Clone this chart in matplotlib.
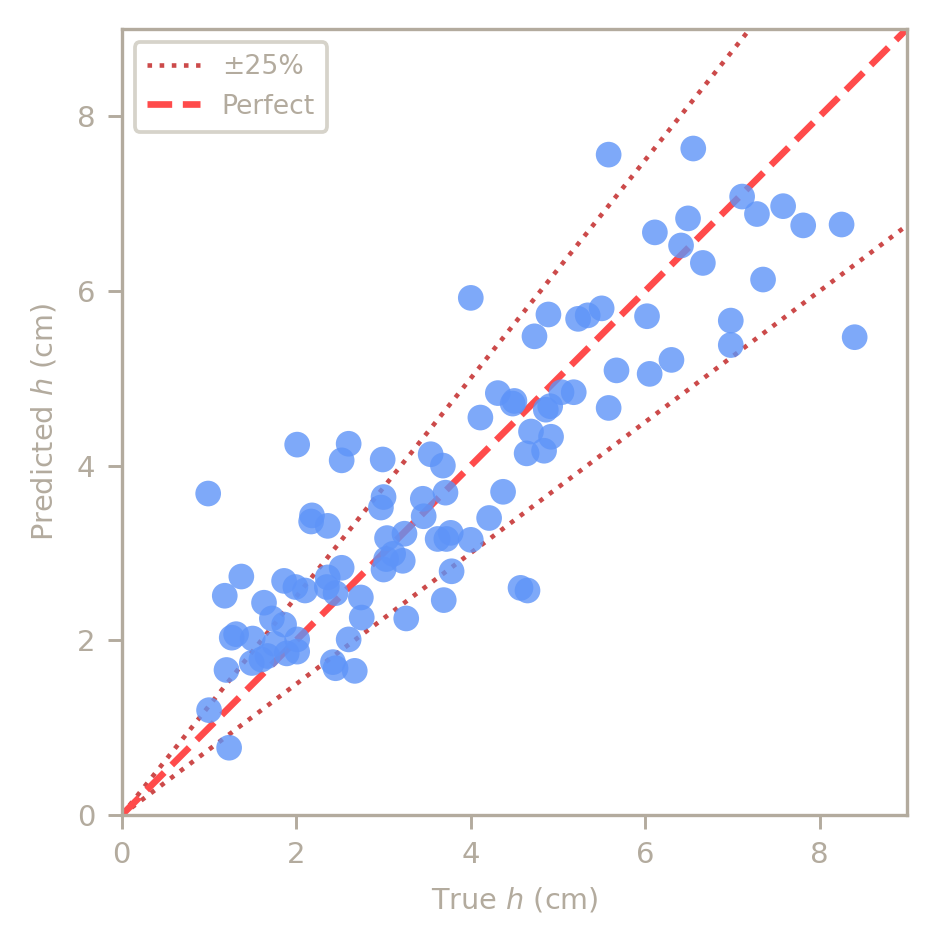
import numpy as np
import matplotlib
matplotlib.use("Agg")
import matplotlib.pyplot as plt

# true vs predicted h (cm)
true_h = [0.99, 1.00, 1.23, 1.18, 1.37, 1.20, 1.26, 1.31, 1.50, 1.49,
          1.63, 1.60, 1.67, 1.72, 1.75, 1.86, 1.86, 1.89, 1.99, 2.01,
          2.01, 2.01, 2.10, 2.17, 2.18, 2.36, 2.35, 2.36, 2.42, 2.45,
          2.45, 2.52, 2.52, 2.60, 2.60, 2.67, 2.74, 2.75, 2.99, 2.97,
          3.00, 3.00, 3.04, 3.03, 3.11, 3.22, 3.24, 3.26, 3.46, 3.45,
          3.54, 3.62, 3.68, 3.69, 3.72, 3.71, 3.77, 3.78, 4.00, 4.00,
          4.11, 4.21, 4.31, 4.37, 4.48, 4.50, 4.57, 4.65, 4.64, 4.69,
          4.73, 4.84, 4.86, 4.89, 4.91, 4.92, 5.04, 5.18, 5.23, 5.34,
          5.50, 5.58, 5.58, 5.67, 6.02, 6.05, 6.11, 6.30, 6.41, 6.49,
          6.55, 6.66, 6.98, 6.98, 7.11, 7.28, 7.35, 7.58, 7.81, 8.25,
          8.40]
pred_h = [3.68, 1.20, 0.77, 2.51, 2.73, 1.66, 2.03, 2.07, 2.02, 1.74,
          2.43, 1.78, 1.82, 2.25, 1.96, 2.68, 2.18, 1.85, 2.61, 2.01,
          1.87, 4.24, 2.57, 3.36, 3.43, 3.31, 2.61, 2.72, 1.75, 1.68,
          2.54, 2.83, 4.06, 4.25, 2.01, 1.65, 2.49, 2.26, 4.07, 3.52,
          3.64, 2.81, 3.17, 2.93, 2.99, 2.91, 3.22, 2.25, 3.42, 3.62,
          4.13, 3.16, 4.00, 2.46, 3.16, 3.69, 3.23, 2.79, 5.92, 3.15,
          4.55, 3.40, 4.83, 3.70, 4.71, 4.74, 2.60, 2.57, 4.14, 4.39,
          5.48, 4.17, 4.64, 5.73, 4.68, 4.33, 4.84, 4.84, 5.68, 5.72,
          5.80, 7.56, 4.66, 5.09, 5.71, 5.05, 6.67, 5.21, 6.52, 6.83,
          7.63, 6.32, 5.66, 5.38, 7.08, 6.88, 6.13, 6.97, 6.75, 6.76,
          5.47]

band = 0.25
lim = 9
ticks = [0, 2, 4, 6, 8]

grey = "#b3ab9e"

plt.rcParams['font.family'] = ['DejaVu Sans']
plt.rcParams['mathtext.fontset'] = 'dejavusans'

fig = plt.figure(figsize=(937 / 300, 946 / 300), dpi=300)
ax = fig.add_axes([0.130, 0.1385, 0.838, 0.831])

line = np.array([0, lim])
ax.plot(line, line * (1 + band), ls=':', color='#cc4a4a', lw=1.1,
        label='±25%', zorder=1)
ax.plot(line, line * (1 - band), ls=':', color='#cc4a4a', lw=1.1, zorder=1)
ax.plot(line, line, ls='--', color='#ff4b4b', lw=1.6, label='Perfect',
        zorder=1)

ax.scatter(true_h, pred_h, s=38, color='#5e94f8', alpha=0.8,
           edgecolors='none', zorder=2)

ax.set_xlim(0, lim)
ax.set_ylim(0, lim)
ax.set_xticks(ticks)
ax.set_yticks(ticks)

ax.set_xlabel('True $h$ (cm)', color=grey, fontsize=6.9, labelpad=4)
ax.set_ylabel('Predicted $h$ (cm)', color=grey, fontsize=6.9, labelpad=4.5)
ax.tick_params(colors=grey, labelcolor=grey, labelsize=7, width=0.7,
               length=3.3, pad=3)
for sp in ax.spines.values():
    sp.set_color(grey)
    sp.set_linewidth(0.8)

leg = ax.legend(loc='upper left', fontsize=6.4, frameon=True,
                edgecolor='#d6d3ca', framealpha=1, handlelength=2.0,
                borderpad=0.45, labelspacing=0.5)
for t in leg.get_texts():
    t.set_color(grey)
leg.get_frame().set_linewidth(0.9)

fig.savefig('out.png', dpi=300)
